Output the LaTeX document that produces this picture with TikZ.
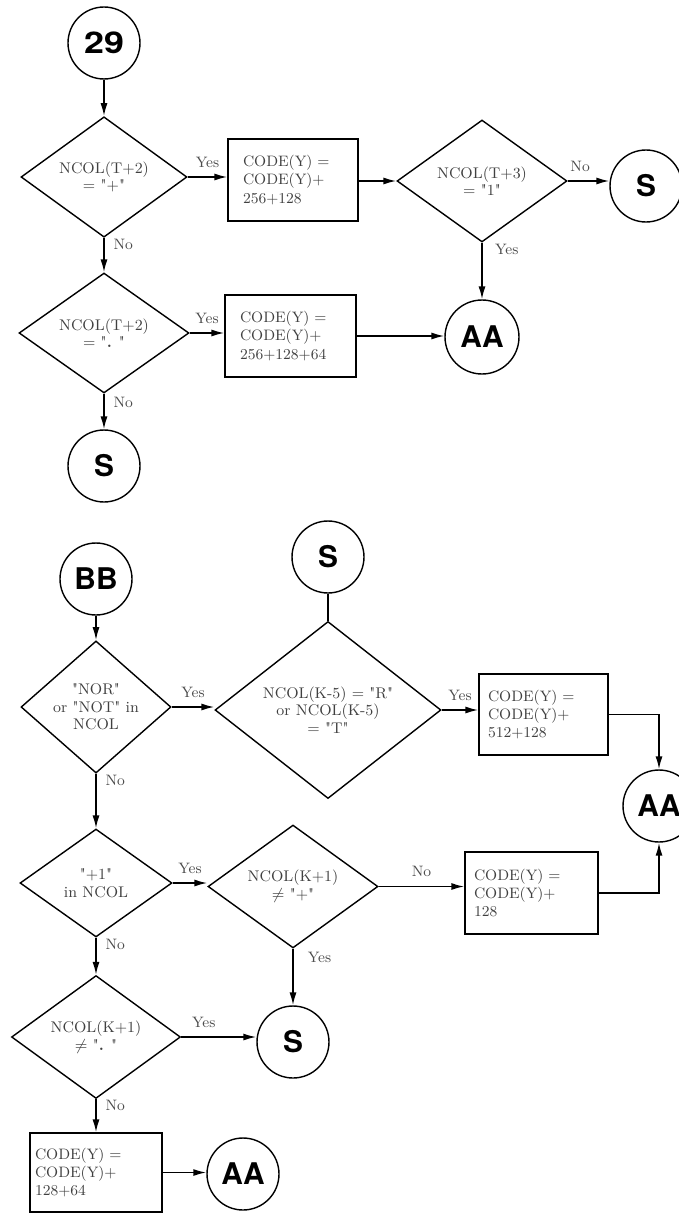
\documentclass[tikz,border=0pt]{standalone}
\usepackage{fontspec}
\usepackage{graphicx}
\newfontfamily\connfont{TeX Gyre Heros}
\usetikzlibrary{arrows.meta,shapes.geometric}

\newcommand{\qq}{\textquotedbl}

\tikzset{
  flow/.style={line width=0.9pt},
  arr/.style={flow, -{Latex[length=2.6mm,width=1.4mm]}},
  conn/.style={draw, line width=0.8pt, circle, minimum size=#1, inner sep=0pt,
    font=\connfont\bfseries\fontsize{17}{17}\selectfont},
  conn/.default=1.44cm,
  test/.style 2 args={draw, line width=0.8pt, diamond, inner sep=0pt,
    minimum width=#1, minimum height=#2, align=center, text=black!75,
    font=\fontsize{8.8}{10}\selectfont},
  stepbox/.style n args={4}{draw, line width=0.8pt, rectangle, align=left,
    inner ysep=0pt, inner xsep=#3, text width=#1, minimum height=#2,
    text=black!75, font=\fontsize{8.6}{10.5}\selectfont},
  lbl/.style={text=black!70, font=\fontsize{8.6}{10}\selectfont, inner sep=2pt},
  lblup/.style={lbl, above=3pt},
}

\begin{document}
\begin{tikzpicture}[x=0.02cm, y=-0.02cm]
  \useasboundingbox (0,0) rectangle (679,1213);

  % ---------- entry 29 ----------
  \node[conn] (c29) at (104,43) {\scalebox{1.2}[1]{29}};
  \node[test={3.32cm}{2.36cm}] (d1) at (104,177) {NCOL(T+2)\\= \qq+\qq};
  \node[stepbox={2.0cm}{1.64cm}{0.3cm}] (b1) at (293,180)
    {CODE(Y) =\\CODE(Y)+\\256+128};
  \node[test={3.4cm}{2.44cm}] (d2) at (482,181) {NCOL(T+3)\\= \qq1\qq};
  \node[conn] (s1) at (646,186) {S};
  \node[test={3.4cm}{2.4cm}] (d3) at (104,333) {NCOL(T+2)\\= \qq\textbf{.} \qq};
  \node[stepbox={2.02cm}{1.64cm}{0.3cm}] (b2) at (290.5,336)
    {CODE(Y) =\\CODE(Y)+\\256+128+64};
  \node[conn={1.48cm}] (aa1) at (482,337) {AA};
  \node[conn] (s2) at (104,466) {S};

  \draw[arr] (c29) -- (d1.north);
  \draw[arr] (d1.east) -- node[lblup] (l1) {Yes} (d1.east -| b1.west);
  \draw[arr] (b1.east |- d2.west) -- (d2.west);
  \draw[arr] (d2.east) -- node[lblup, pos=0.3] (l2) {No} (d2.east -| s1.west);
  \draw[arr] (d2.south) -- node[lbl, right, pos=0.12, xshift=5pt] (l3) {Yes} (aa1.north);
  \draw[arr] (d1.south) -- node[lbl, right, pos=0.2, xshift=3pt] (l4) {No} (d3.north);
  \draw[arr] (d3.east) -- node[lblup] (l5) {Yes} (d3.east -| b2.west);
  \draw[arr] (b2.east) -- (b2.east -| aa1.west);
  \draw[arr] (d3.south) -- node[lbl, right, pos=0.25, xshift=3pt] (l6) {No} (s2.north);

  % ---------- entry BB ----------
  \node[conn] (bb) at (96,579) {BB};
  \node[conn] (s3) at (328,557) {S};
  \node[test={3.0cm}{2.12cm}] (d4) at (96,707) {\qq NOR\qq\\or \qq NOT\qq{} in\\NCOL};
  \node[test={4.52cm}{3.2cm}] (d5) at (328,710) {NCOL(K-5) = \qq R\qq\\or NCOL(K-5)\\= \qq T\qq};
  \node[stepbox={2.22cm}{1.62cm}{0.18cm}] (b3) at (543.5,714.5)
    {CODE(Y) =\\CODE(Y)+\\512+128};
  \node[conn] (aa2) at (659,806) {AA};
  \node[test={3.04cm}{2.16cm}] (d6) at (96,883) {\qq+1\qq\\in NCOL};
  \node[test={3.4cm}{2.42cm}] (d7) at (293,886.5) {NCOL(K+1)\\$\neq$ \qq+\qq};
  \node[stepbox={2.3cm}{1.64cm}{0.18cm}] (b4) at (531.5,893)
    {CODE(Y) =\\CODE(Y)+\\128};
  \node[conn] (s4) at (293,1042) {S};
  \node[test={3.38cm}{2.4cm}] (d8) at (96,1037) {NCOL(K+1)\\$\neq$ \qq\textbf{.} \qq};
  \node[stepbox={2.44cm}{1.58cm}{0.1cm}] (b5) at (96,1172.5)
    {CODE(Y) =\\CODE(Y)+\\128+64};
  \node[conn] (aa3) at (243,1174) {AA};

  \draw[arr] (bb) -- (d4.north);
  \draw[flow] (s3.south) -- (d5.north);
  \draw[arr] (d4.east) -- node[lblup] (l7) {Yes} (d4.east -| d5.west);
  \draw[arr] (d5.east) -- node[lblup] (l8) {Yes} (d5.east -| b3.west);
  \draw[arr] (b3.east) -| (aa2.north);
  \draw[arr] (d4.south) -- node[lbl, right, pos=0.13, xshift=3pt] (l9) {No} (d6.north);
  \draw[arr] (d6.east) -- node[lblup] (l10) {Yes} (d6.east -| d7.west);
  \draw[arr] (d7.east) -- node[lblup] (l11) {No} (d7.east -| b4.west);
  \draw[arr] (b4.east) -| (aa2.south);
  \draw[arr] (d7.south) -- node[lbl, right, pos=0.15, xshift=6pt] (l12) {Yes} (s4.north);
  \draw[arr] (d6.south) -- node[lbl, right, pos=0.18, xshift=3pt] (l13) {No} (d8.north);
  \draw[arr] (d8.east) -- node[lblup, pos=0.3] (l14) {Yes} (d8.east -| s4.west);
  \draw[arr] (d8.south) -- node[lbl, right, pos=0.18, xshift=3pt] (l15) {No} (b5.north);
  \draw[arr] (b5.east) -- (b5.east -| aa3.west);
\end{tikzpicture}
\end{document}
